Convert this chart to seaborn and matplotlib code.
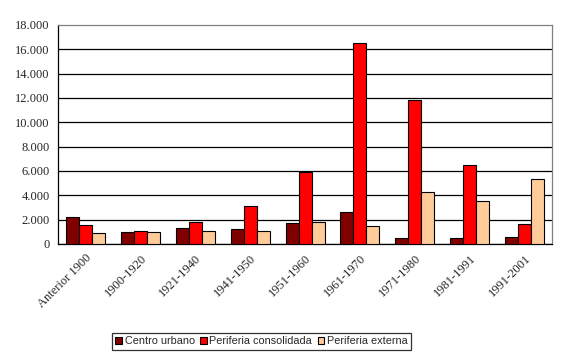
import numpy as np
import pandas as pd
import matplotlib
matplotlib.use("Agg")
import matplotlib.pyplot as plt
import seaborn as sns

# Data
periodos = ["Anterior 1900", "1900-1920", "1921-1940", "1941-1950", "1951-1960",
            "1961-1970", "1971-1980", "1981-1991", "1991-2001"]
centro_urbano = [2220, 1000, 1330, 1250, 1750, 2640, 470, 470, 560]
periferia_consolidada = [1560, 1070, 1800, 3150, 5880, 16500, 11800, 6500, 1640]
periferia_externa = [890, 1000, 1060, 1080, 1830, 1480, 4250, 3520, 5330]
zonas = ["Centro urbano", "Periferia consolidada", "Periferia externa"]
colores = ["#800000", "#FF0000", "#FFCC99"]

df = pd.DataFrame({
    "periodo": periodos * 3,
    "zona": [zonas[0]] * 9 + [zonas[1]] * 9 + [zonas[2]] * 9,
    "valor": centro_urbano + periferia_consolidada + periferia_externa,
})

sns.set_style("white")
plt.rcParams["font.family"] = ["Liberation Serif", "DejaVu Serif"]

fig = plt.figure(figsize=(5.66, 3.62), dpi=100)
ax = fig.add_axes([0.1025, 0.326, 0.8728, 0.605])

sns.barplot(data=df, x="periodo", y="valor", hue="zona", order=periodos,
            hue_order=zonas, palette=colores, saturation=1, width=0.71, gap=0,
            edgecolor="black", linewidth=0.8, ax=ax, zorder=3)

# Axes and grid
ax.set_xlim(-0.5, len(periodos) - 0.5)
ax.set_ylim(0, 18000)
ax.set_yticks(np.arange(0, 18001, 2000))
ax.set_yticklabels([f"{v:,}".replace(",", ".") for v in range(0, 18001, 2000)], fontsize=9)
ax.yaxis.grid(True, color="black", linewidth=0.9, zorder=0)
ax.get_ygridlines()[-1].set_visible(False)
ax.set_axisbelow(True)

ax.set_xticks(np.arange(-0.5, len(periodos), 1))
ax.set_xticklabels([""] * (len(periodos) + 1))
ax.set_xticks(np.arange(len(periodos)), minor=True)
ax.set_xticklabels(periodos, minor=True, rotation=45, ha="right",
                   rotation_mode="anchor", fontsize=9)
ax.tick_params(axis="x", which="minor", length=0, pad=6)
ax.tick_params(axis="x", which="major", direction="out", length=4, width=0.8, color="black")
ax.tick_params(axis="y", direction="out", length=4, width=0.8, color="black", pad=2)

ax.set_xlabel("")
ax.set_ylabel("")
for side in ["left", "bottom"]:
    ax.spines[side].set_color("black")
    ax.spines[side].set_linewidth(0.9)
for side in ["top", "right"]:
    ax.spines[side].set_visible(True)
    ax.spines[side].set_color("#808080")
    ax.spines[side].set_linewidth(0.9)

# Legend at the bottom
ax.legend_.remove()
handles = [plt.Rectangle((0, 0), 1, 1, facecolor=c, edgecolor="black", linewidth=0.8) for c in colores]
leg = fig.legend(handles, zonas, loc="center", bbox_to_anchor=(0.462, 0.057), ncol=3,
                 frameon=True, fancybox=False, edgecolor="black", handlelength=0.6,
                 handleheight=0.6, handletextpad=0.25, columnspacing=0.5, borderpad=0.35,
                 prop={"family": "Liberation Sans", "size": 7.8})
leg.get_frame().set_linewidth(0.9)

fig.savefig("out.png", dpi=100, facecolor="white")
